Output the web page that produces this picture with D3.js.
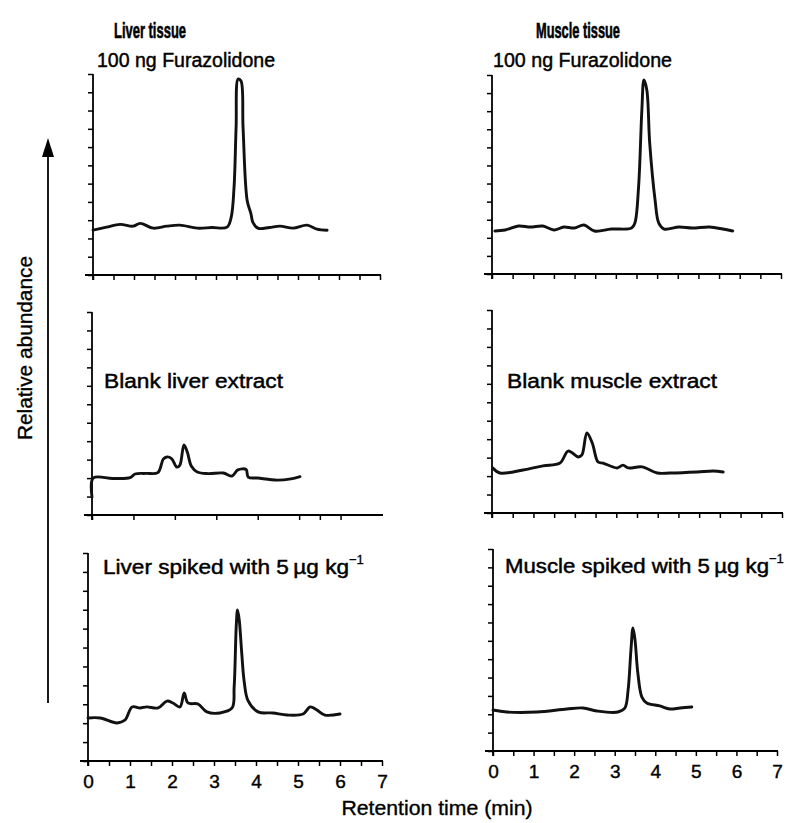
<!DOCTYPE html>
<html>
<head>
<meta charset="utf-8">
<script src="https://cdn.jsdelivr.net/npm/d3@7"></script>
<style>
  html, body { margin: 0; padding: 0; background: #fff; }
  svg { display: block; }
  text { font-family: "Liberation Sans", Arial, Helvetica, sans-serif; fill: #000; }
</style>
</head>
<body>
<svg id="chart" width="788" height="823"></svg>
<script>
// ---------------- DATA ----------------
// Retention time (min) and relative abundance (% of axis height)
const liverStdTime = [0, 0.33, 0.66, 0.98, 1.15, 1.47, 1.80, 2.12, 2.54, 2.9, 3.27, 3.37, 3.44, 3.49, 3.54, 3.61, 3.66, 3.76, 3.85, 3.90, 4.02, 4.3, 4.56, 4.88, 5.22, 5.46, 5.71];
const liverStdVal  = [22.3, 23.8, 25.2, 24.3, 25.7, 23.3, 24.3, 24.8, 23.3, 23.6, 23.8, 28.7, 43.6, 73.3, 97.5, 96.5, 73.3, 37.1, 30.7, 26.2, 23.3, 23.6, 24.3, 23.3, 24.8, 22.8, 22.3];

const muscleStdTime = [0.07, 0.32, 0.64, 0.93, 1.23, 1.50, 1.74, 1.99, 2.23, 2.48, 2.89, 3.38, 3.46, 3.55, 3.63, 3.68, 3.75, 3.82, 3.95, 4.04, 4.17, 4.53, 4.85, 5.27, 5.59, 5.83];
const muscleStdVal  = [21.6, 22.1, 24.1, 23.6, 24.1, 22.1, 23.6, 23.1, 24.6, 21.6, 22.6, 23.1, 25.6, 43.7, 82.4, 97.5, 92.5, 65.8, 37.2, 25.6, 22.6, 23.6, 23.1, 23.6, 22.6, 21.6];

const liverBlankTime = [0, 0.03, 0.5, 0.92, 1.04, 1.3, 1.59, 1.72, 1.81, 1.92, 2.05, 2.12, 2.22, 2.30, 2.40, 2.54, 2.8, 3.17, 3.38, 3.52, 3.72, 3.77, 4.0, 4.47, 4.8, 5.02];
const liverBlankVal  = [8.9, 18.2, 18.0, 18.4, 20.2, 20.5, 20.9, 27.5, 28.6, 27.8, 23.6, 24.5, 34.5, 31.0, 24.0, 21.2, 20.4, 20.7, 19.2, 22.2, 22.4, 18.7, 18.2, 17.2, 17.8, 18.9];

const muscleBlankTime = [0.02, 0.19, 0.75, 1.23, 1.64, 1.84, 2.08, 2.17, 2.29, 2.42, 2.56, 2.68, 3.02, 3.16, 3.29, 3.62, 3.99, 4.30, 4.95, 5.34, 5.58];
const muscleBlankVal  = [22.2, 19.7, 21.2, 23.2, 24.6, 30.5, 27.6, 28.6, 39.4, 34.5, 25.1, 24.6, 22.2, 23.6, 22.2, 22.7, 19.7, 19.7, 20.2, 20.7, 20.2];

const liverSpikeTime = [0, 0.29, 0.69, 0.88, 1.05, 1.24, 1.40, 1.67, 1.88, 2.02, 2.19, 2.29, 2.38, 2.62, 2.83, 3.14, 3.43, 3.48, 3.53, 3.56, 3.60, 3.66, 3.72, 3.81, 4.05, 4.40, 4.74, 5.12, 5.29, 5.45, 5.64, 6.0];
const liverSpikeVal  = [20.7, 20.7, 18.3, 19.7, 26.0, 25.5, 26.0, 25.5, 28.8, 27.9, 26.0, 32.7, 27.9, 27.4, 23.6, 23.1, 25.5, 35.6, 65.0, 72.6, 68.0, 52.0, 38.0, 29.0, 23.6, 23.1, 22.1, 22.6, 26.0, 24.5, 22.1, 22.6];

const muscleSpikeTime = [0, 0.34, 1.08, 1.82, 2.22, 2.56, 3.08, 3.25, 3.33, 3.40, 3.45, 3.50, 3.57, 3.67, 3.79, 4.11, 4.36, 4.61, 4.90];
const muscleSpikeVal  = [20.3, 19.3, 19.3, 20.8, 21.3, 19.8, 19.3, 21.3, 30.2, 50.0, 60.9, 55.0, 38.6, 26.7, 23.8, 22.3, 20.8, 21.3, 21.8];

// Tick definitions
const xTicksHalf   = [0, 0.5, 1, 1.5, 2, 2.5, 3, 3.5, 4, 4.5, 5, 5.5, 6, 6.5, 7];
const xTicksBlankL = [0, 1, 2, 3, 4, 5, 5.5, 6];
const xTickLabels  = ["0", "1", "2", "3", "4", "5", "6", "7"];
const yTickCount   = 11; // intervals on each abundance axis

// Text
const columnTitles = ["Liver tissue", "Muscle tissue"];
const panelLabels = [
  ["100 ng Furazolidone", "100 ng Furazolidone"],
  ["Blank liver extract", "Blank muscle extract"],
  ["Liver spiked with 5\u2009\u00b5g kg", "Muscle spiked with 5\u2009\u00b5g kg"]
];
const yTitle = "Relative abundance";
const xTitle = "Retention time (min)";

// ---------------- LAYOUT ----------------
const panels = [
  {time: liverStdTime,    val: liverStdVal,    x0: 93,  x7: 380, top: 74,  base: 275, ticks: xTicksHalf,   labels: false, lab: panelLabels[0][0], lx: 97,  ly: 67,  lw: 178},
  {time: muscleStdTime,   val: muscleStdVal,   x0: 492, x7: 781, top: 75,  base: 274, ticks: xTicksHalf,   labels: false, lab: panelLabels[0][1], lx: 493, ly: 67,  lw: 179},
  {time: liverBlankTime,  val: liverBlankVal,  x0: 92,  x7: 382, top: 312, base: 515, ticks: xTicksBlankL, labels: false, lab: panelLabels[1][0], lx: 104, ly: 388, lw: 179},
  {time: muscleBlankTime, val: muscleBlankVal, x0: 492, x7: 782, top: 310, base: 513, ticks: xTicksHalf,   labels: false, lab: panelLabels[1][1], lx: 507, ly: 388, lw: 210},
  {time: liverSpikeTime,  val: liverSpikeVal,  x0: 88,  x7: 382, top: 553, base: 761, ticks: xTicksHalf,   labels: true,  lab: panelLabels[2][0], lx: 103, ly: 574, lw: 246, sup: true},
  {time: muscleSpikeTime, val: muscleSpikeVal, x0: 493, x7: 777, top: 549, base: 751, ticks: xTicksHalf,   labels: true,  lab: panelLabels[2][1], lx: 505, ly: 573, lw: 264, sup: true}
];

const svg = d3.select("#chart");

// Column titles
svg.append("text").attr("x", 150).attr("y", 38).attr("text-anchor", "middle")
  .attr("font-size", 22).attr("font-weight", "bold").attr("stroke", "#000").attr("stroke-width", 0.6)
  .attr("textLength", 72).attr("lengthAdjust", "spacingAndGlyphs").text(columnTitles[0]);
svg.append("text").attr("x", 578).attr("y", 38).attr("text-anchor", "middle")
  .attr("font-size", 22).attr("font-weight", "bold").attr("stroke", "#000").attr("stroke-width", 0.6)
  .attr("textLength", 84).attr("lengthAdjust", "spacingAndGlyphs").text(columnTitles[1]);

panels.forEach(p => {
  const x = d3.scaleLinear().domain([0, 7]).range([p.x0, p.x7]);
  const y = d3.scaleLinear().domain([0, 100]).range([p.base, p.top]);
  const g = svg.append("g");

  // axis lines (x axis slightly overhangs the y axis, as in the original)
  g.append("line").attr("x1", p.x0 - 8).attr("x2", x(7) + 1).attr("y1", p.base).attr("y2", p.base)
    .attr("stroke", "#000").attr("stroke-width", 1.8);
  g.append("line").attr("x1", p.x0).attr("x2", p.x0).attr("y1", p.top).attr("y2", p.base + 5)
    .attr("stroke", "#000").attr("stroke-width", 1.8);

  // y ticks
  const yTicks = d3.range(yTickCount + 1).map(i => i * 100 / yTickCount);
  const ya = g.append("g").attr("transform", `translate(${p.x0},0)`)
    .call(d3.axisLeft(y).tickValues(yTicks).tickSize(5).tickFormat(""));
  ya.select(".domain").remove();
  ya.selectAll(".tick line").attr("stroke", "#000").attr("stroke-width", 1.5);

  // x ticks
  const xa = g.append("g").attr("transform", `translate(0,${p.base})`)
    .call(d3.axisBottom(x).tickValues(p.ticks).tickSize(5)
      .tickFormat(d => (p.labels && Number.isInteger(d)) ? xTickLabels[d] : ""));
  xa.select(".domain").remove();
  xa.selectAll(".tick line").attr("stroke", "#000").attr("stroke-width", 1.5);
  xa.selectAll(".tick text").attr("font-size", 19).attr("fill", "#000")
    .attr("stroke", "#000").attr("stroke-width", 0.4)
    .attr("font-family", "Liberation Sans, Arial, sans-serif").attr("dy", null).attr("y", 27);

  // trace
  const pts = p.time.map((t, i) => [t, p.val[i]]);
  const line = d3.line().x(d => x(d[0])).y(d => y(d[1])).curve(d3.curveCatmullRom.alpha(0.5));
  g.append("path").datum(pts).attr("d", line)
    .attr("fill", "none").attr("stroke", "#111").attr("stroke-width", 2.9)
    .attr("stroke-linejoin", "round").attr("stroke-linecap", "round");

  // panel label
  const t = g.append("text").attr("x", p.lx).attr("y", p.ly).attr("font-size", 20)
    .attr("stroke", "#000").attr("stroke-width", 0.45);
  t.append("tspan").attr("textLength", p.lw).attr("lengthAdjust", "spacingAndGlyphs").text(p.lab);
  if (p.sup) {
    t.append("tspan").attr("font-size", 13).attr("dy", -10).attr("stroke-width", 0.3).text("\u22121");
  }
});

// y-axis title and arrow
svg.append("text").attr("transform", "translate(32,348) rotate(-90)")
  .attr("text-anchor", "middle").attr("font-size", 20)
  .attr("stroke", "#000").attr("stroke-width", 0.35)
  .attr("textLength", 184).attr("lengthAdjust", "spacingAndGlyphs").text(yTitle);
svg.append("line").attr("x1", 48).attr("x2", 48).attr("y1", 703).attr("y2", 152)
  .attr("stroke", "#000").attr("stroke-width", 1.8);
svg.append("path").attr("d", "M48,138 L42,157 L54,157 Z").attr("fill", "#000");

// x-axis title
svg.append("text").attr("x", 437).attr("y", 815).attr("text-anchor", "middle")
  .attr("font-size", 20).attr("stroke", "#000").attr("stroke-width", 0.35)
  .attr("textLength", 191).attr("lengthAdjust", "spacingAndGlyphs").text(xTitle);
</script>
</body>
</html>
